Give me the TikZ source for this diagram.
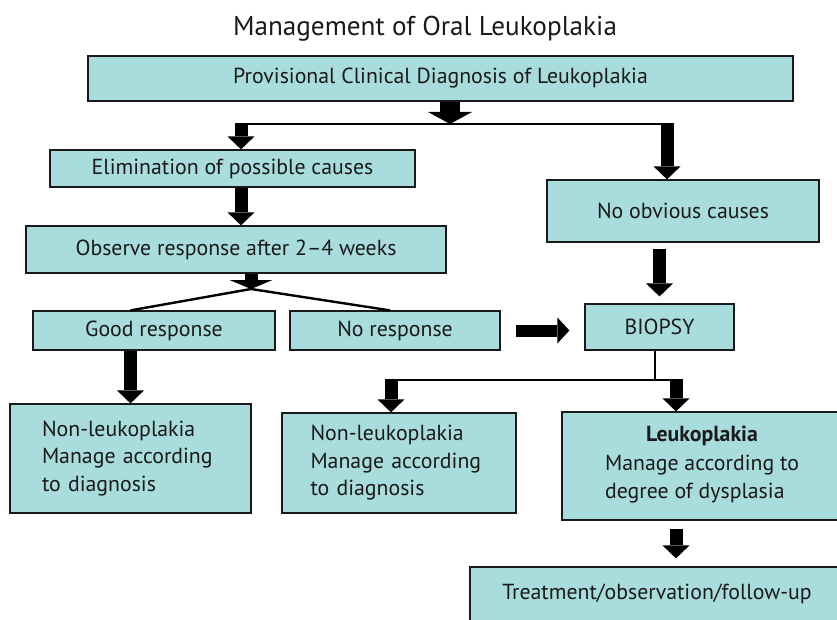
\documentclass[tikz,border=0pt]{standalone}
\usepackage{fontspec}
\setmainfont{PT Sans}
\usepackage{tikz}
\usetikzlibrary{arrows.meta,positioning}
\definecolor{ink}{HTML}{1A1A1A}
\definecolor{aqua}{HTML}{A9DCDC}
\tikzset{box/.style={draw=ink,fill=aqua,line width=1.2pt,align=center,text=ink,font=\fontsize{21.8}{27.5}\selectfont,inner sep=0pt},arr/.style={line width=13pt,draw=black,-{Triangle[length=13pt,width=27pt,line width=0pt]}},fatarr/.style={line width=20pt,draw=black,-{Triangle[length=12pt,width=44pt,line width=0pt]}},conn/.style={line width=2.4pt,draw=black}}

\begin{document}
\begin{tikzpicture}[x=1pt,y=-1pt]
\path[use as bounding box] (0,0) rectangle (837,620);
\clip (0,0) rectangle (837,620);
\node[font=\fontsize{27.2}{32}\selectfont,text=ink] (title) at (425,29) {Management of Oral Leukoplakia};
\node[box,minimum width=705pt,minimum height=45pt] (diag) at (440.5,78.5) {Provisional Clinical Diagnosis of Leukoplakia};
\node[box,minimum width=365pt,minimum height=37pt] (elim) at (232.5,168.5) {Elimination of possible causes};
\node[box,minimum width=272pt,minimum height=62pt] (noobv) at (683,211) {No obvious causes};
\node[box,minimum width=420pt,minimum height=47pt] (obs) at (236,249.5) {Observe response after 2--4 weeks};
\node[box,minimum width=242pt,minimum height=39pt] (good) at (154,330.5) {Good response};
\node[box,minimum width=210pt,minimum height=39pt] (nores) at (395,330.5) {No response};
\node[box,minimum width=149pt,minimum height=46pt] (biopsy) at (659.5,327) {BIOPSY};
\node[box,align=left,text width=177pt,inner xsep=32pt,minimum height=109pt] (nonleukA) at (130.5,458.5) {Non-leukoplakia\\Manage according\\to diagnosis};
\node[box,align=left,text width=177pt,inner xsep=28.5pt,minimum height=100pt] (nonleukB) at (399,463) {Non-leukoplakia\\Manage according\\to diagnosis};
\node[box,minimum width=280pt,minimum height=108pt] (leuk) at (702,466) {\textbf{Leukoplakia}\\[5pt]\begin{tabular}{@{}l@{}}Manage according to\\degree of dysplasia\end{tabular}};
\node[box,minimum width=374pt,minimum height=54pt] (treat) at (657,594) {Treatment/observation/follow-up};
% top split
\coordinate (topfork) at (450,124);
\coordinate (leftdrop) at (241,124);
\coordinate (rightdrop) at (667,124);
\draw[conn] (leftdrop) -- (rightdrop);
\draw[fatarr] (diag.south -| topfork) -- (topfork);
\draw[arr] ([yshift=1.2pt]leftdrop) -- (leftdrop |- elim.north);
\draw[arr] ([yshift=1.2pt]rightdrop) -- (rightdrop |- noobv.north);
\draw[arr] (elim.south -| leftdrop) -- (obs.north -| leftdrop);
% response fork
\coordinate (obsfork) at (251,289);
\draw[conn] (good.north -| nonleukA.north) -- (obsfork) -- ([xshift=-5pt]nores.north);
\draw[arr,-{Triangle[length=9pt,width=43pt,line width=0pt]}] (obs.south -| obsfork) -- (obsfork);
\draw[arr] (good.south -| nonleukA.north) -- (nonleukA.north);
\draw[arr,line width=12pt,-{Triangle[length=12pt,width=26pt,line width=0pt]},shorten <=15pt,shorten >=15pt] (nores.east) -- (nores.east -| biopsy.west);
\draw[arr,shorten <=6pt,shorten >=7pt] (noobv.south -| biopsy.north) -- (biopsy.north);
% biopsy split
\coordinate (biopsyfork) at (655,380);
\coordinate (midfork) at (391,380);
\coordinate (leukfork) at (676,380);
\draw[conn] (biopsy.south -| biopsyfork) -- (biopsyfork);
\draw[conn] (midfork) -- (leukfork);
\draw[arr] ([yshift=1.2pt]midfork) -- (midfork |- nonleukB.north);
\draw[arr] ([yshift=1.2pt]leukfork) -- (leukfork |- leuk.north);
\draw[arr,shorten <=8pt,shorten >=8pt] (leukfork |- leuk.south) -- (leukfork |- treat.north);
\end{tikzpicture}
\end{document}
